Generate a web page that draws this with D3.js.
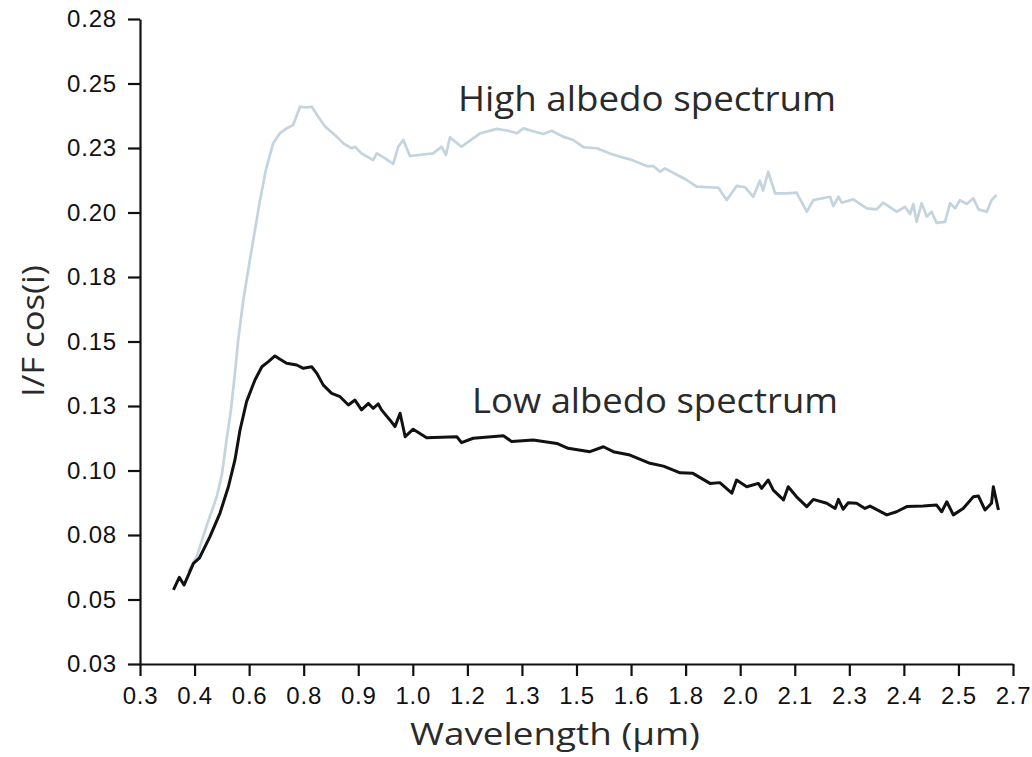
<!DOCTYPE html>
<html>
<head>
<meta charset="utf-8">
<script src="https://cdn.jsdelivr.net/npm/d3@7"></script>
<style>
  body { margin: 0; background: #fff; }
  svg { display: block; }
</style>
</head>
<body>
<div id="chart"></div>
<script>
// Axis ticks (labels as printed on the original figure)
const xTicks = [0.3, 0.45, 0.6, 0.75, 0.9, 1.05, 1.2, 1.35, 1.5, 1.65, 1.8, 1.95, 2.1, 2.25, 2.4, 2.55, 2.7];
const xTickLabels = ["0.3", "0.4", "0.6", "0.8", "0.9", "1.0", "1.2", "1.3", "1.5", "1.6", "1.8", "2.0", "2.1", "2.3", "2.4", "2.5", "2.7"];
const yTicks = [0.025, 0.05, 0.075, 0.1, 0.125, 0.15, 0.175, 0.2, 0.225, 0.25, 0.275];
const yTickLabels = ["0.03", "0.05", "0.08", "0.10", "0.13", "0.15", "0.18", "0.20", "0.23", "0.25", "0.28"];

// Low albedo spectrum (wavelength um, I/F cos(i))
const lowWave = [0.392, 0.408, 0.421, 0.447, 0.463, 0.492, 0.520, 0.543, 0.561, 0.575, 0.593, 0.616, 0.635, 0.653, 0.671, 0.685, 0.703, 0.731, 0.749, 0.772,
  0.786, 0.804, 0.827, 0.850, 0.873, 0.891, 0.909, 0.928, 0.941, 0.955, 0.964, 0.987, 1.001, 1.015, 1.029, 1.051, 1.088, 1.171, 1.184, 1.216,
  1.299, 1.322, 1.381, 1.446, 1.477, 1.537, 1.574, 1.601, 1.647, 1.702, 1.739, 1.785, 1.820, 1.867, 1.894, 1.927, 1.940, 1.968, 2.000, 2.009,
  2.027, 2.041, 2.069, 2.082, 2.105, 2.133, 2.151, 2.188, 2.211, 2.220, 2.233, 2.247, 2.270, 2.293, 2.307, 2.353, 2.380, 2.408, 2.453, 2.490,
  2.504, 2.518, 2.536, 2.563, 2.591, 2.605, 2.623, 2.641, 2.646, 2.660];
const lowValue = [0.0537, 0.0586, 0.0556, 0.0640, 0.0660, 0.0743, 0.0835, 0.0937, 0.1041, 0.1157, 0.1267, 0.1351, 0.1402, 0.1422, 0.1444, 0.1431, 0.1416, 0.1409, 0.1396, 0.1402,
  0.1377, 0.1331, 0.1299, 0.1286, 0.1254, 0.1273, 0.1235, 0.1260, 0.1241, 0.1258, 0.1235, 0.1196, 0.1170, 0.1222, 0.1131, 0.1160, 0.1127, 0.1131, 0.1108, 0.1125,
  0.1135, 0.1112, 0.1118, 0.1105, 0.1086, 0.1073, 0.1092, 0.1073, 0.1060, 0.1028, 0.1017, 0.0991, 0.0989, 0.0950, 0.0953, 0.0912, 0.0963, 0.0937, 0.0950, 0.0931,
  0.0963, 0.0924, 0.0886, 0.0937, 0.0898, 0.0860, 0.0888, 0.0873, 0.0853, 0.0888, 0.0850, 0.0875, 0.0873, 0.0853, 0.0862, 0.0828, 0.0840, 0.0860, 0.0862, 0.0866,
  0.0840, 0.0879, 0.0828, 0.0853, 0.0898, 0.0901, 0.0847, 0.0873, 0.0937, 0.0847];

// High albedo spectrum
const highWave = [0.432, 0.456, 0.484, 0.511, 0.525, 0.538, 0.550, 0.561, 0.570, 0.584, 0.602, 0.616, 0.630, 0.646, 0.666, 0.685, 0.703, 0.721, 0.740, 0.756,
  0.772, 0.790, 0.809, 0.841, 0.859, 0.882, 0.891, 0.909, 0.941, 0.951, 0.974, 0.996, 1.010, 1.024, 1.042, 1.106, 1.129, 1.141, 1.152, 1.184,
  1.235, 1.281, 1.312, 1.336, 1.354, 1.386, 1.409, 1.432, 1.463, 1.491, 1.519, 1.556, 1.592, 1.620, 1.647, 1.693, 1.711, 1.730, 1.743, 1.803,
  1.830, 1.890, 1.913, 1.940, 1.963, 1.986, 2.004, 2.013, 2.027, 2.046, 2.078, 2.105, 2.133, 2.151, 2.197, 2.206, 2.220, 2.229, 2.261, 2.298,
  2.325, 2.343, 2.380, 2.403, 2.417, 2.426, 2.435, 2.449, 2.463, 2.476, 2.490, 2.513, 2.527, 2.541, 2.554, 2.573, 2.591, 2.605, 2.628, 2.641, 2.655];
const highValue = [0.0607, 0.0666, 0.0789, 0.0898, 0.0983, 0.1118, 0.1235, 0.1377, 0.1506, 0.1661, 0.1816, 0.1932, 0.2048, 0.2165, 0.2268, 0.2308, 0.2326, 0.2339, 0.2410, 0.2407,
  0.2410, 0.2371, 0.2333, 0.2294, 0.2268, 0.2249, 0.2255, 0.2229, 0.2203, 0.2229, 0.2210, 0.2188, 0.2255, 0.2281, 0.2219, 0.2229, 0.2255, 0.2223, 0.2291, 0.2255,
  0.2307, 0.2324, 0.2317, 0.2307, 0.2326, 0.2313, 0.2304, 0.2317, 0.2294, 0.2281, 0.2253, 0.2249, 0.2229, 0.2216, 0.2206, 0.2180, 0.2180, 0.2158, 0.2171, 0.2126,
  0.2100, 0.2096, 0.2048, 0.2103, 0.2098, 0.2061, 0.2123, 0.2085, 0.2158, 0.2074, 0.2074, 0.2077, 0.2003, 0.2048, 0.2061, 0.2025, 0.2061, 0.2038, 0.2051, 0.2016,
  0.2012, 0.2038, 0.2003, 0.2022, 0.1994, 0.2033, 0.1964, 0.2036, 0.1984, 0.2003, 0.1960, 0.1964, 0.2036, 0.2016, 0.2048, 0.2033, 0.2055, 0.2012, 0.2003, 0.2048, 0.2068];

// Set dimensions
const margin = { top: 19, right: 19, bottom: 93, left: 140 };
const width = 1032 - margin.left - margin.right;
const height = 757 - margin.top - margin.bottom;

const svg = d3.select("#chart")
  .append("svg")
  .attr("width", width + margin.left + margin.right)
  .attr("height", height + margin.top + margin.bottom)
  .append("g")
  .attr("transform", `translate(${margin.left},${margin.top})`);

const x = d3.scaleLinear().domain([0.3, 2.7]).range([0, width]);
const y = d3.scaleLinear().domain([0.025, 0.275]).range([height, 0]);

const tickFont = "'Liberation Sans', Arial, Helvetica, sans-serif";
const titleFont = "'Open Sans', Lato, 'DejaVu Sans', sans-serif";

// Lines
const line = d3.line()
  .x(d => x(d[0]))
  .y(d => y(d[1]));

const highData = highWave.map((w, i) => [w, highValue[i]]);
const lowData = lowWave.map((w, i) => [w, lowValue[i]]);

svg.append("path")
  .datum(highData)
  .attr("fill", "none")
  .attr("stroke", "#c4d4de")
  .attr("stroke-width", 2.7)
  .attr("stroke-linejoin", "round")
  .attr("d", line);

svg.append("path")
  .datum(lowData)
  .attr("fill", "none")
  .attr("stroke", "#111")
  .attr("stroke-width", 3)
  .attr("stroke-linejoin", "round")
  .attr("d", line);

// X axis
const xAxis = svg.append("g")
  .attr("transform", `translate(0,${height})`)
  .call(d3.axisBottom(x)
    .tickValues(xTicks)
    .tickFormat((d, i) => xTickLabels[i])
    .tickSize(12)
    .tickSizeOuter(0)
    .tickPadding(11));

// Y axis
const yAxis = svg.append("g")
  .call(d3.axisLeft(y)
    .tickValues(yTicks)
    .tickFormat((d, i) => yTickLabels[i])
    .tickSize(12)
    .tickSizeOuter(0)
    .tickPadding(11));

[xAxis, yAxis].forEach(g => {
  g.select(".domain").attr("stroke", "#111").attr("stroke-width", 2.2);
  g.selectAll(".tick line").attr("stroke", "#111").attr("stroke-width", 2.2);
  g.selectAll(".tick text")
    .attr("fill", "#111")
    .style("font-family", tickFont)
    .style("font-size", "24px")
    .style("letter-spacing", "0.8px");
});

// Axis titles
svg.append("text")
  .attr("x", 555 - margin.left)
  .attr("y", 745 - margin.top)
  .attr("text-anchor", "middle")
  .attr("fill", "#2a2a2a")
  .style("font-family", titleFont)
  .style("font-size", "31px")
  .attr("textLength", 290)
  .attr("lengthAdjust", "spacingAndGlyphs")
  .text("Wavelength (μm)");

svg.append("text")
  .attr("transform", `translate(${44 - margin.left},${331 - margin.top})rotate(-90)`)
  .attr("text-anchor", "middle")
  .attr("fill", "#2a2a2a")
  .style("font-family", titleFont)
  .style("font-size", "31px")
  .attr("textLength", 132)
  .attr("lengthAdjust", "spacingAndGlyphs")
  .text("I/F cos(i)");

// Curve labels
svg.append("text")
  .attr("x", 458 - margin.left)
  .attr("y", 111 - margin.top)
  .attr("fill", "#2a2a2a")
  .style("font-family", titleFont)
  .style("font-size", "34px")
  .attr("textLength", 378)
  .attr("lengthAdjust", "spacingAndGlyphs")
  .text("High albedo spectrum");

svg.append("text")
  .attr("x", 472 - margin.left)
  .attr("y", 413 - margin.top)
  .attr("fill", "#2a2a2a")
  .style("font-family", titleFont)
  .style("font-size", "34px")
  .attr("textLength", 366)
  .attr("lengthAdjust", "spacingAndGlyphs")
  .text("Low albedo spectrum");
</script>
</body>
</html>
